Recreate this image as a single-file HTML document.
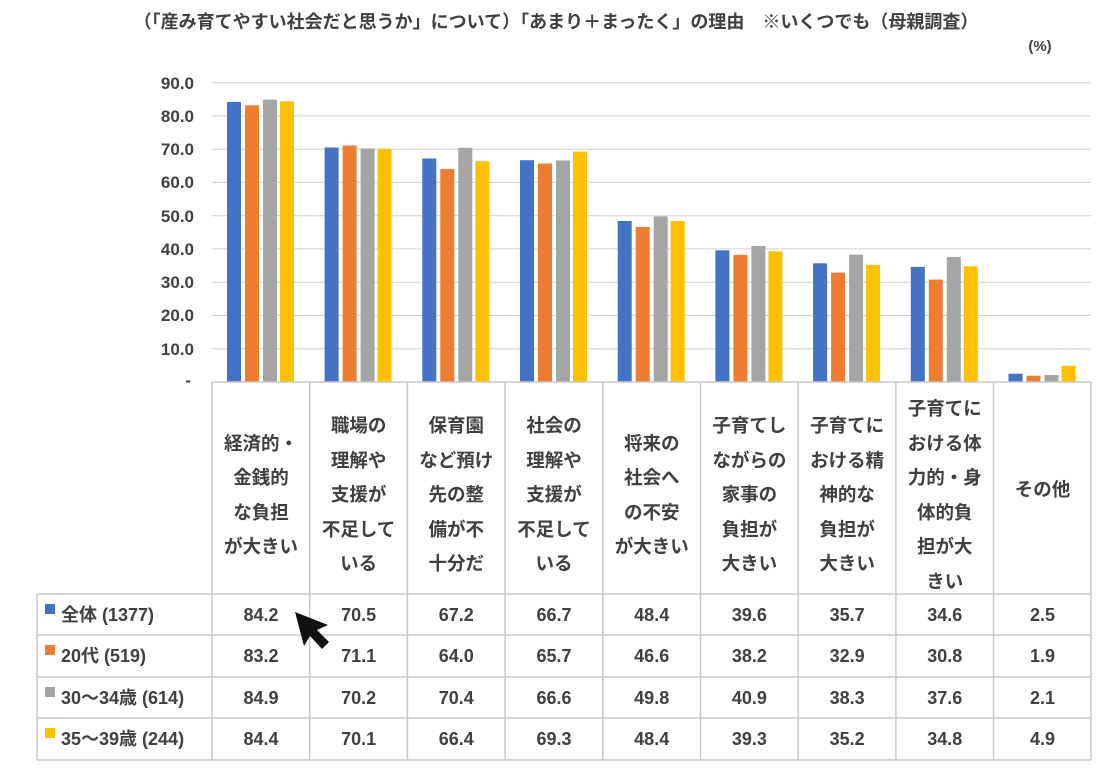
<!DOCTYPE html>
<html><head><meta charset="utf-8"><style>
body{margin:0;background:#fff}
svg{display:block}
text{font-family:"Liberation Sans","Noto Sans CJK JP",sans-serif;font-weight:bold;fill:#404040}
</style></head><body>
<svg width="1108" height="771" viewBox="0 0 1108 771" xmlns="http://www.w3.org/2000/svg">
<text x="556" y="28" font-size="18" text-anchor="middle">（「産み育てやすい社会だと思うか」について）「あまり＋まったく」の理由　※いくつでも（母親調査）</text>
<text x="1040" y="51" font-size="15" text-anchor="middle">(%)</text>
<g stroke="#d0d0d0" stroke-width="1">
<line x1="212" x2="1091" y1="82.7" y2="82.7"/><line x1="212" x2="1091" y1="115.9" y2="115.9"/>
<line x1="212" x2="1091" y1="149.2" y2="149.2"/><line x1="212" x2="1091" y1="182.4" y2="182.4"/>
<line x1="212" x2="1091" y1="215.7" y2="215.7"/><line x1="212" x2="1091" y1="248.9" y2="248.9"/>
<line x1="212" x2="1091" y1="282.2" y2="282.2"/><line x1="212" x2="1091" y1="315.5" y2="315.5"/>
<line x1="212" x2="1091" y1="348.7" y2="348.7"/>
</g>
<g font-size="17" text-anchor="end">
<text x="194" y="89">90.0</text><text x="194" y="122">80.0</text><text x="194" y="155">70.0</text>
<text x="194" y="188">60.0</text><text x="194" y="222">50.0</text><text x="194" y="255">40.0</text>
<text x="194" y="288">30.0</text><text x="194" y="321">20.0</text><text x="194" y="355">10.0</text>
<text x="191" y="386">-</text>
</g>
<g transform="translate(227,0)"><rect x="0" y="101.9" width="14" height="280.1" fill="#4472c4"/><rect x="18" y="105.3" width="14" height="276.7" fill="#ed7d31"/><rect x="36" y="99.6" width="14" height="282.4" fill="#a5a5a5"/><rect x="53" y="101.3" width="14" height="280.7" fill="#ffc000"/></g>
<g transform="translate(324.6,0)"><rect x="0" y="147.5" width="14" height="234.5" fill="#4472c4"/><rect x="18" y="145.5" width="14" height="236.5" fill="#ed7d31"/><rect x="36" y="148.5" width="14" height="233.5" fill="#a5a5a5"/><rect x="53" y="148.8" width="14" height="233.2" fill="#ffc000"/></g>
<g transform="translate(422.3,0)"><rect x="0" y="158.5" width="14" height="223.5" fill="#4472c4"/><rect x="18" y="169.1" width="14" height="212.9" fill="#ed7d31"/><rect x="36" y="147.8" width="14" height="234.2" fill="#a5a5a5"/><rect x="53" y="161.2" width="14" height="220.8" fill="#ffc000"/></g>
<g transform="translate(520,0)"><rect x="0" y="160.2" width="14" height="221.8" fill="#4472c4"/><rect x="18" y="163.5" width="14" height="218.5" fill="#ed7d31"/><rect x="36" y="160.5" width="14" height="221.5" fill="#a5a5a5"/><rect x="53" y="151.5" width="14" height="230.5" fill="#ffc000"/></g>
<g transform="translate(617.7,0)"><rect x="0" y="221" width="14" height="161" fill="#4472c4"/><rect x="18" y="227" width="14" height="155" fill="#ed7d31"/><rect x="36" y="216.4" width="14" height="165.6" fill="#a5a5a5"/><rect x="53" y="221" width="14" height="161" fill="#ffc000"/></g>
<g transform="translate(715.4,0)"><rect x="0" y="250.3" width="14" height="131.7" fill="#4472c4"/><rect x="18" y="254.9" width="14" height="127.1" fill="#ed7d31"/><rect x="36" y="246" width="14" height="136" fill="#a5a5a5"/><rect x="53" y="251.3" width="14" height="130.7" fill="#ffc000"/></g>
<g transform="translate(813.1,0)"><rect x="0" y="263.3" width="14" height="118.7" fill="#4472c4"/><rect x="18" y="272.6" width="14" height="109.4" fill="#ed7d31"/><rect x="36" y="254.6" width="14" height="127.4" fill="#a5a5a5"/><rect x="53" y="264.9" width="14" height="117.1" fill="#ffc000"/></g>
<g transform="translate(910.8,0)"><rect x="0" y="266.9" width="14" height="115.1" fill="#4472c4"/><rect x="18" y="279.6" width="14" height="102.4" fill="#ed7d31"/><rect x="36" y="256.9" width="14" height="125.1" fill="#a5a5a5"/><rect x="53" y="266.3" width="14" height="115.7" fill="#ffc000"/></g>
<g transform="translate(1008.5,0)"><rect x="0" y="373.7" width="14" height="8.3" fill="#4472c4"/><rect x="18" y="375.7" width="14" height="6.3" fill="#ed7d31"/><rect x="36" y="375" width="14" height="7" fill="#a5a5a5"/><rect x="53" y="365.7" width="14" height="16.3" fill="#ffc000"/></g>
<g stroke="#c8c8c8" stroke-width="1.5" fill="none">
<line x1="212" x2="1091" y1="382" y2="382"/>
<line x1="37" x2="1091" y1="594" y2="594"/><line x1="37" x2="1091" y1="635" y2="635"/>
<line x1="37" x2="1091" y1="677" y2="677"/><line x1="37" x2="1091" y1="718" y2="718"/>
<line x1="37" x2="1091" y1="760" y2="760"/>
<line x1="37" x2="37" y1="594" y2="760"/>
<line x1="212" x2="212" y1="382" y2="760"/><line x1="309.7" x2="309.7" y1="382" y2="760"/>
<line x1="407.4" x2="407.4" y1="382" y2="760"/><line x1="505.1" x2="505.1" y1="382" y2="760"/>
<line x1="602.8" x2="602.8" y1="382" y2="760"/><line x1="700.5" x2="700.5" y1="382" y2="760"/>
<line x1="798.2" x2="798.2" y1="382" y2="760"/><line x1="895.9" x2="895.9" y1="382" y2="760"/>
<line x1="993.6" x2="993.6" y1="382" y2="760"/><line x1="1091" x2="1091" y1="382" y2="760"/>
</g>
<g font-size="18.5" text-anchor="middle">
<text x="261" y="450">経済的・</text><text x="261" y="484">金銭的</text><text x="261" y="519">な負担</text><text x="261" y="553">が大きい</text>
<text x="358.6" y="432">職場の</text><text x="358.6" y="467">理解や</text><text x="358.6" y="501">支援が</text><text x="358.6" y="536">不足して</text><text x="358.6" y="570">いる</text>
<text x="456.3" y="432">保育園</text><text x="456.3" y="467">など預け</text><text x="456.3" y="501">先の整</text><text x="456.3" y="536">備が不</text><text x="456.3" y="570">十分だ</text>
<text x="554" y="432">社会の</text><text x="554" y="467">理解や</text><text x="554" y="501">支援が</text><text x="554" y="536">不足して</text><text x="554" y="570">いる</text>
<text x="651.7" y="450">将来の</text><text x="651.7" y="484">社会へ</text><text x="651.7" y="519">の不安</text><text x="651.7" y="553">が大きい</text>
<text x="749.4" y="432">子育てし</text><text x="749.4" y="467">ながらの</text><text x="749.4" y="501">家事の</text><text x="749.4" y="536">負担が</text><text x="749.4" y="570">大きい</text>
<text x="847.1" y="432">子育てに</text><text x="847.1" y="467">おける精</text><text x="847.1" y="501">神的な</text><text x="847.1" y="536">負担が</text><text x="847.1" y="570">大きい</text>
<text x="944.8" y="415">子育てに</text><text x="944.8" y="450">おける体</text><text x="944.8" y="484">力的・身</text><text x="944.8" y="519">体的負</text><text x="944.8" y="553">担が大</text><text x="944.8" y="588">きい</text>
<text x="1042.5" y="496">その他</text>
</g>
<rect x="45" y="604" width="10" height="10" fill="#4472c4"/>
<rect x="45" y="645" width="10" height="10" fill="#ed7d31"/>
<rect x="45" y="687" width="10" height="10" fill="#a5a5a5"/>
<rect x="45" y="728" width="10" height="10" fill="#ffc000"/>
<g font-size="18">
<text x="61" y="621">全体 (1377)</text>
<text x="61" y="662">20代 (519)</text>
<text x="61" y="704">30～34歳 (614)</text>
<text x="61" y="745">35～39歳 (244)</text>
</g>
<g font-size="18" text-anchor="middle">
<text x="261" y="621">84.2</text><text x="358.6" y="621">70.5</text><text x="456.3" y="621">67.2</text><text x="554" y="621">66.7</text><text x="651.7" y="621">48.4</text><text x="749.4" y="621">39.6</text><text x="847.1" y="621">35.7</text><text x="944.8" y="621">34.6</text><text x="1042.5" y="621">2.5</text>
<text x="261" y="662">83.2</text><text x="358.6" y="662">71.1</text><text x="456.3" y="662">64.0</text><text x="554" y="662">65.7</text><text x="651.7" y="662">46.6</text><text x="749.4" y="662">38.2</text><text x="847.1" y="662">32.9</text><text x="944.8" y="662">30.8</text><text x="1042.5" y="662">1.9</text>
<text x="261" y="704">84.9</text><text x="358.6" y="704">70.2</text><text x="456.3" y="704">70.4</text><text x="554" y="704">66.6</text><text x="651.7" y="704">49.8</text><text x="749.4" y="704">40.9</text><text x="847.1" y="704">38.3</text><text x="944.8" y="704">37.6</text><text x="1042.5" y="704">2.1</text>
<text x="261" y="745">84.4</text><text x="358.6" y="745">70.1</text><text x="456.3" y="745">66.4</text><text x="554" y="745">69.3</text><text x="651.7" y="745">48.4</text><text x="749.4" y="745">39.3</text><text x="847.1" y="745">35.2</text><text x="944.8" y="745">34.8</text><text x="1042.5" y="745">4.9</text>
</g>
<path d="M295,612 L304,646 L310,636 L322,649 L329,642 L317,630 L328,625 Z" fill="#111"/>
</svg>
</body></html>
